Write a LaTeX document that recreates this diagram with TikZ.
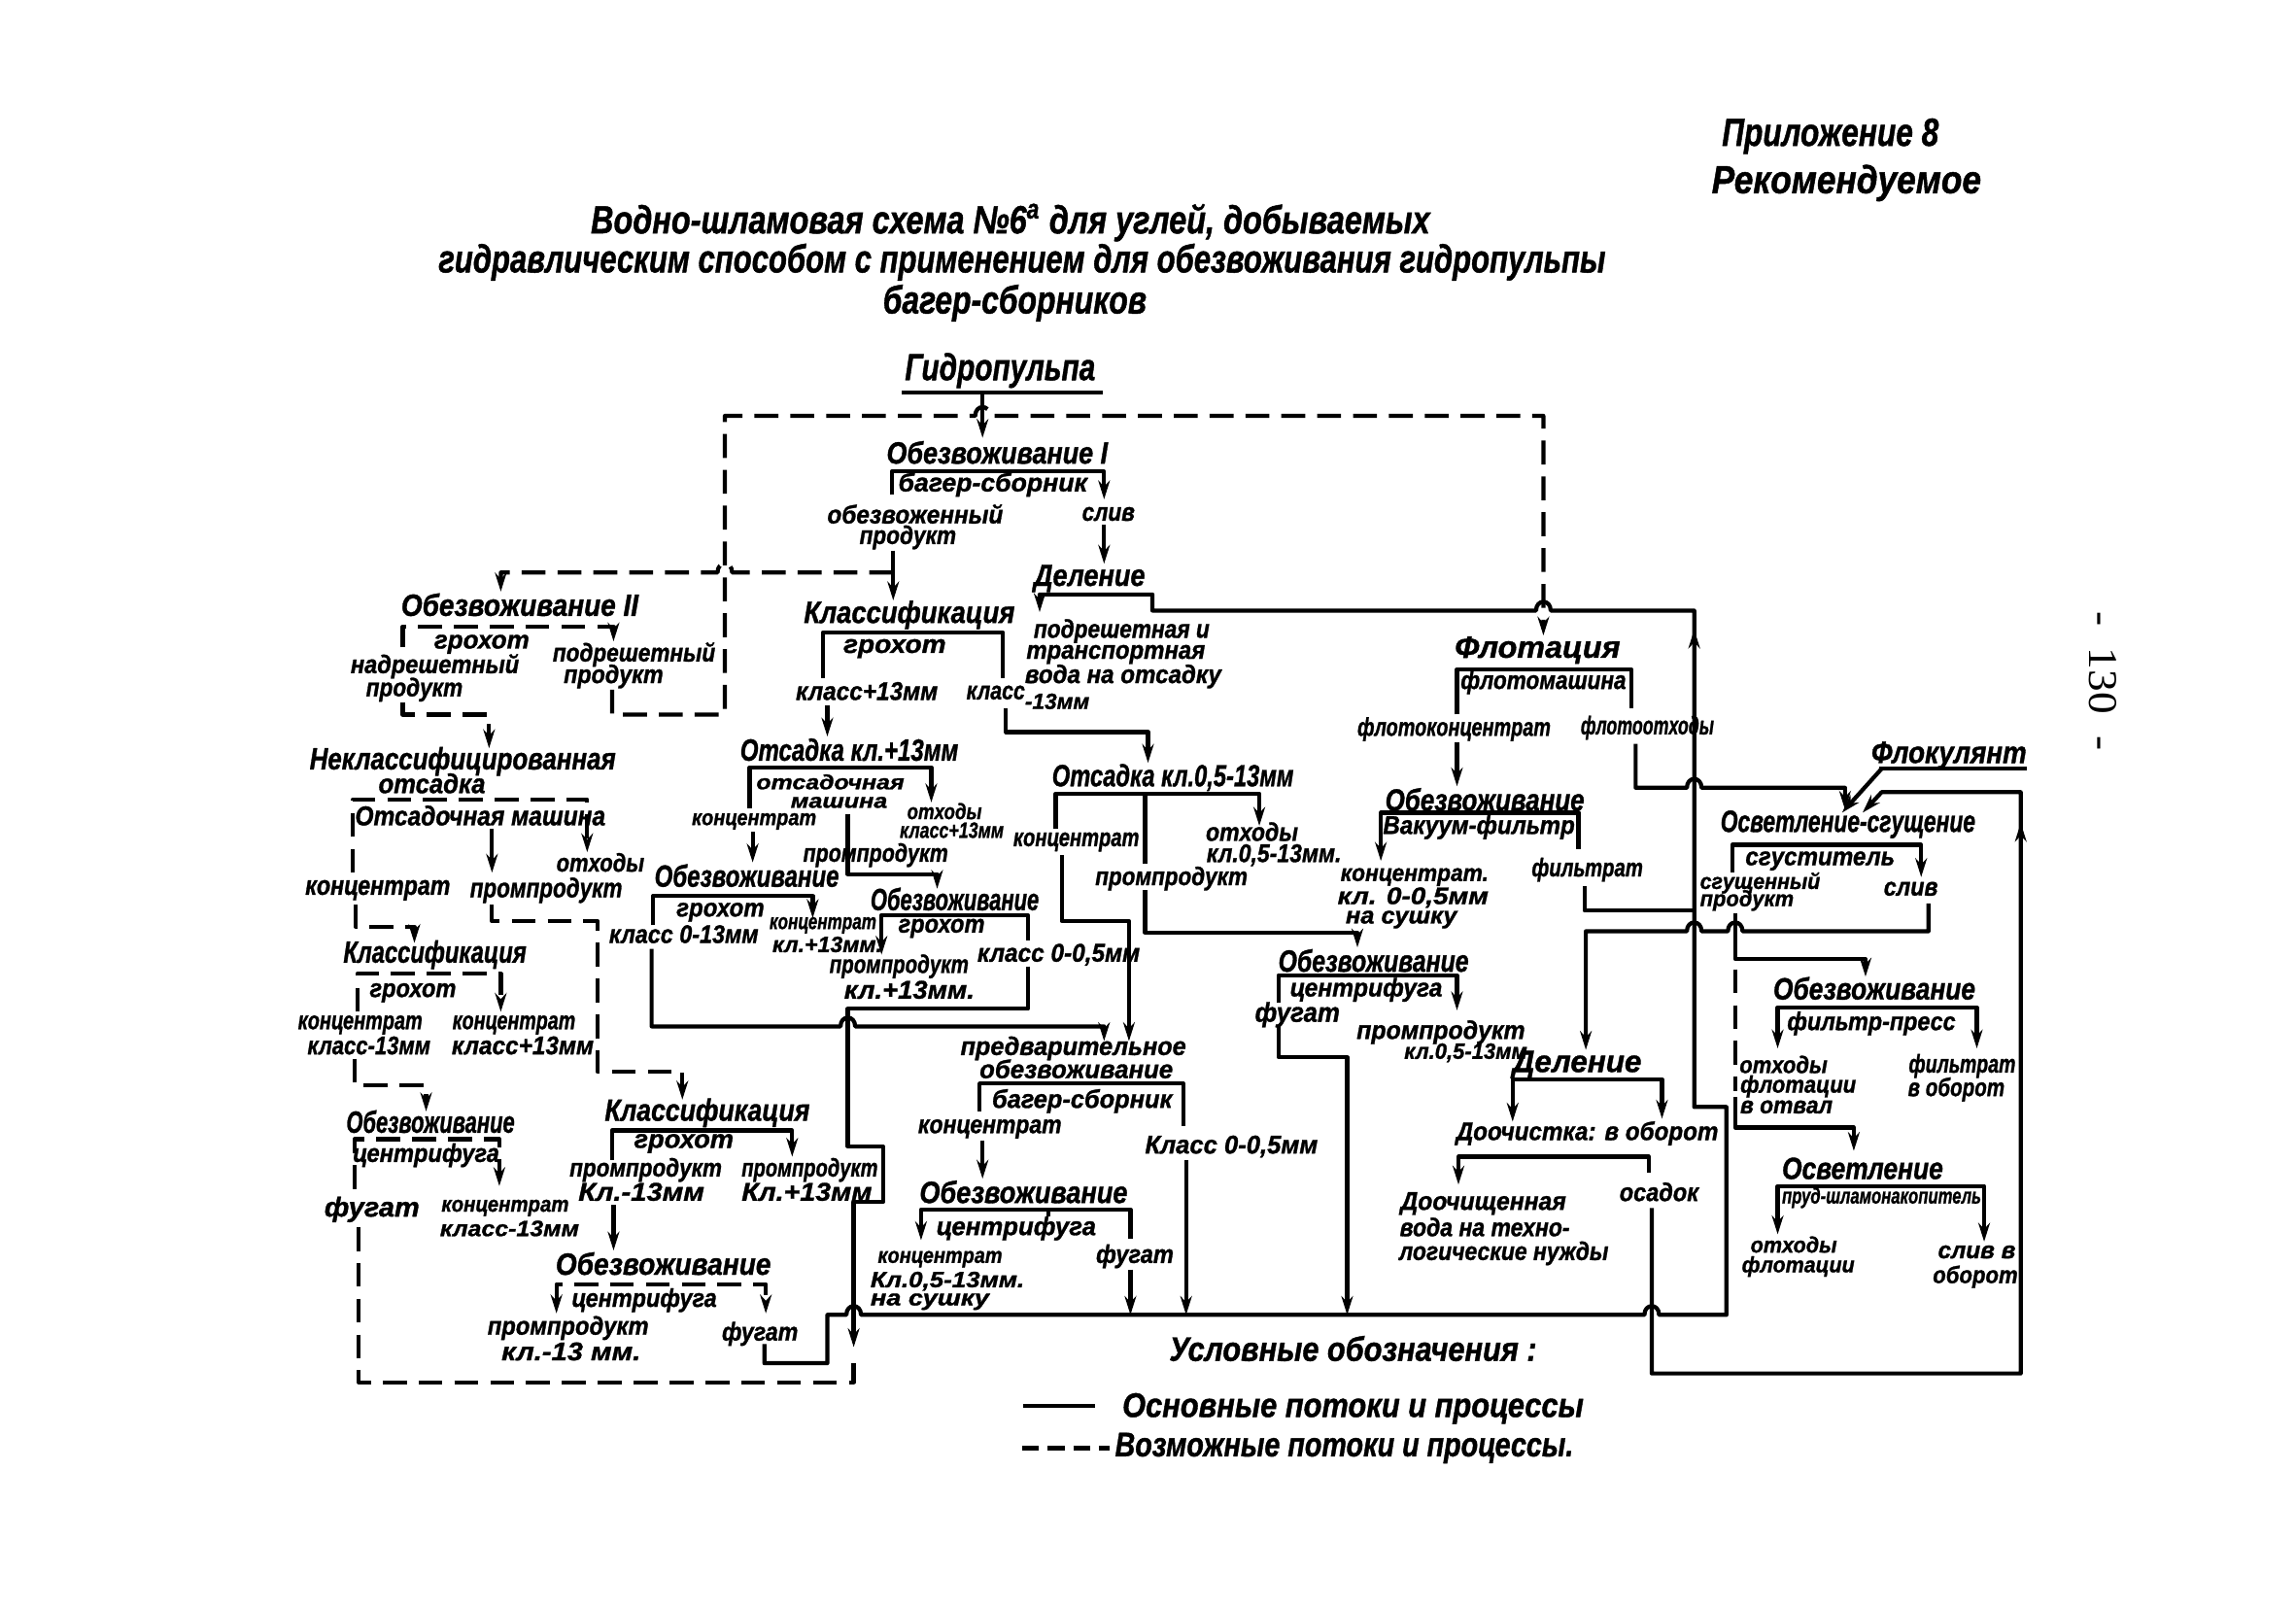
\documentclass[tikz,border=0pt]{standalone}
\usepackage{fontspec}
\usepackage{graphicx}
\setmainfont{Liberation Sans}[BoldItalicFeatures={FakeBold=1.2}]
\newfontfamily\serifpg{Liberation Serif}
\usetikzlibrary{arrows.meta}
\newlength\ulen \setlength\ulen{0.01507cm}
\newcommand\fnT{\fontsize{11.5}{12}\selectfont}
\newcommand\fnG{\fontsize{11}{12}\selectfont}
\newcommand\fnP{\fontsize{9}{10}\selectfont}
\newcommand\fnM{\fontsize{8}{9}\selectfont}
\newcommand\fnS{\fontsize{7.5}{8}\selectfont}
\newcommand\fnR{\fontsize{7}{8}\selectfont}
\newcommand\fnX{\fontsize{6.5}{7}\selectfont}
\newcommand\fnY{\fontsize{6}{6.5}\selectfont}
\newcommand\fnL{\fontsize{10}{11}\selectfont}
\newcommand\Tx[5]{\node[txt] (#1) at (#2) {#4\bfseries\itshape\resizebox{#3\ulen}{\height}{#5}};}
\newcommand\hopR[2]{-- ({#1-5},#2) .. controls ({#1-5},{#2-8}) and ({#1+5},{#2-8}) .. ({#1+5},#2)}
\newcommand\hopL[2]{-- ({#1+5},#2) .. controls ({#1+5},{#2-8}) and ({#1-5},{#2-8}) .. ({#1-5},#2)}
\begin{document}
\begin{tikzpicture}[x=0.01507cm,y=-0.01507cm,line width=1.2pt,line join=round,
  txt/.style={inner sep=0pt,anchor=center},
  arE/.style={-{Stealth[length=5.5pt,width=3.4pt]}},
  arS/.style={{Stealth[length=5.5pt,width=3.4pt]}-},
  arB/.style={{Stealth[length=5.5pt,width=3.4pt]}-{Stealth[length=5.5pt,width=3.4pt]}},
  dsh/.style={dash pattern=on 7pt off 3.5pt}]
\useasboundingbox (0,0) rectangle (1568,1097);

% ---------- headings ----------
\Tx{app}{1250,93}{148}{\fnT}{Приложение 8}
\Tx{rec}{1261,125}{184}{\fnT}{Рекомендуемое}
\Tx{t1}{690,152}{573}{\fnT}{Водно-шламовая схема №6\textsuperscript{а} для углей, добываемых}
\Tx{t2}{698,179}{797}{\fnT}{гидравлическим способом с применением для обезвоживания гидропульпы}
\Tx{t3}{693,207}{180}{\fnT}{багер-сборников}
\node[inner sep=0pt,rotate=-90] (pg) at (1436,465) {\serifpg\fontsize{12}{12}\selectfont\resizebox{95\ulen}{\height}{-\ \ 130\ \ -}};

% ---------- nodes ----------
\Tx{gp}{683,253}{130}{\fnG}{Гидропульпа}
\Tx{ob1}{681,309}{151}{\fnP}{Обезвоживание I}
\Tx{ob1e}{678,331}{129}{\fnS}{багер-сборник}
\Tx{ob1a}{625,351}{120}{\fnS}{обезвоженный}
\Tx{ob1b}{620,367}{66}{\fnS}{продукт}
\Tx{ob1c}{757,351}{36}{\fnS}{слив}

\Tx{del1}{744,395}{76}{\fnP}{Деление}
\Tx{del1a}{766,431}{120}{\fnS}{подрешетная и}
\Tx{del1b}{762,447}{122}{\fnS}{транспортная}
\Tx{del1c}{767,462}{134}{\fnS}{вода на отсадку}

\Tx{kl1}{621,420}{144}{\fnP}{Классификация}
\Tx{kl1e}{611,443}{70}{\fnS}{грохот}
\Tx{kl1a}{592,472}{97}{\fnS}{класс+13мм}
\Tx{kl1b}{680,473}{40}{\fnS}{класс}
\Tx{kl1c}{722,479}{44}{\fnX}{-13мм}

\Tx{ob2}{355,413}{162}{\fnP}{Обезвоживание II}
\Tx{ob2e}{329,440}{65}{\fnS}{грохот}
\Tx{ob2a}{297,455}{115}{\fnS}{надрешетный}
\Tx{ob2b}{283,471}{66}{\fnS}{продукт}
\Tx{ob2c}{433,447}{111}{\fnS}{подрешетный}
\Tx{ob2d}{419,462}{68}{\fnS}{продукт}

\Tx{no}{316,520}{209}{\fnP}{Неклассифицированная}
\Tx{no2}{295,535}{73}{\fnM}{отсадка}
\Tx{noe}{328,557}{171}{\fnM}{Отсадочная машина}
\Tx{noa}{258,608}{99}{\fnM}{концентрат}
\Tx{nob}{373,608}{104}{\fnM}{промпродукт}
\Tx{noc}{410,589}{60}{\fnS}{отходы}

\Tx{kl2}{297,652}{125}{\fnP}{Классификация}
\Tx{kl2e}{282,678}{59}{\fnS}{грохот}
\Tx{kl2a}{246,700}{85}{\fnS}{концентрат}
\Tx{kl2b}{252,714}{84}{\fnS}{класс-13мм}
\Tx{kl2c}{351,700}{84}{\fnS}{концентрат}
\Tx{kl2d}{357,714}{97}{\fnS}{класс+13мм}

\Tx{ob3}{294,766}{115}{\fnP}{Обезвоживание}
\Tx{ob3e}{291,789}{100}{\fnS}{центрифуга}
\Tx{ob3a}{254,826}{65}{\fnM}{фугат}
\Tx{ob3b}{345,825}{87}{\fnX}{концентрат}
\Tx{ob3c}{348,839}{95}{\fnX}{класс-13мм}

\Tx{kl3}{483,760}{140}{\fnP}{Классификация}
\Tx{kl3e}{467,781}{68}{\fnS}{грохот}
\Tx{kl3a}{441,799}{104}{\fnS}{промпродукт}
\Tx{kl3b}{438,814}{86}{\fnS}{Кл.-13мм}
\Tx{kl3c}{553,799}{93}{\fnS}{промпродукт}
\Tx{kl3d}{551,814}{89}{\fnS}{Кл.+13мм}

\Tx{ob4}{453,863}{147}{\fnP}{Обезвоживание}
\Tx{ob4e}{440,888}{99}{\fnS}{центрифуга}
\Tx{ob4a}{388,907}{110}{\fnS}{промпродукт}
\Tx{ob4b}{390,923}{95}{\fnS}{кл.-13 мм.}
\Tx{ob4c}{519,911}{52}{\fnS}{фугат}

\Tx{ot1}{580,512}{149}{\fnP}{Отсадка кл.+13мм}
\Tx{ot1e}{567,534}{101}{\fnY}{отсадочная}
\Tx{ot1f}{573,548}{66}{\fnY}{машина}
\Tx{ot1a}{515,561}{85}{\fnX}{концентрат}
\Tx{ot1b}{645,554}{51}{\fnX}{отходы}
\Tx{ot1c}{650,567}{71}{\fnX}{класс+13мм}
\Tx{ot1d}{598,584}{99}{\fnS}{промпродукт}

\Tx{ob5}{510,598}{126}{\fnP}{Обезвоживание}
\Tx{ob5e}{492,623}{60}{\fnS}{грохот}
\Tx{ob5a}{467,638}{102}{\fnS}{класс 0-13мм}
\Tx{ob5b}{562,632}{73}{\fnX}{концентрат}
\Tx{ob5c}{565,645}{75}{\fnX}{кл.+13мм.}

\Tx{ob6}{652,614}{115}{\fnP}{Обезвоживание}
\Tx{ob6e}{643,634}{59}{\fnS}{грохот}
\Tx{ob6a}{723,652}{111}{\fnS}{класс 0-0,5мм}
\Tx{ob6b}{614,660}{95}{\fnS}{промпродукт}
\Tx{ob6c}{621,676}{89}{\fnS}{кл.+13мм.}

\Tx{ot2}{801,531}{165}{\fnP}{Отсадка кл.0,5-13мм}
\Tx{ot2a}{735,575}{86}{\fnS}{концентрат}
\Tx{ot2b}{800,600}{104}{\fnS}{промпродукт}
\Tx{ot2c}{855,568}{63}{\fnS}{отходы}
\Tx{ot2d}{870,584}{92}{\fnS}{кл.0,5-13мм.}

\Tx{pr}{733,716}{154}{\fnS}{предварительное}
\Tx{pr2}{735,730}{132}{\fnS}{обезвоживание}
\Tx{pre}{739,752}{123}{\fnS}{багер-сборник}
\Tx{pra}{676,771}{98}{\fnS}{концентрат}
\Tx{prb}{841,783}{118}{\fnS}{Класс 0-0,5мм}

\Tx{ob7}{699,814}{142}{\fnP}{Обезвоживание}
\Tx{ob7e}{694,839}{109}{\fnS}{центрифуга}
\Tx{ob7a}{642,860}{85}{\fnX}{концентрат}
\Tx{ob7b}{647,875}{105}{\fnX}{Кл.0,5-13мм.}
\Tx{ob7c}{635,889}{81}{\fnX}{на сушку}
\Tx{ob7d}{775,858}{53}{\fnS}{фугат}

\Tx{ob8}{938,656}{130}{\fnP}{Обезвоживание}
\Tx{ob8e}{933,676}{104}{\fnS}{центрифуга}
\Tx{ob8a}{886,693}{58}{\fnM}{фугат}
\Tx{ob8b}{984,705}{115}{\fnS}{промпродукт}
\Tx{ob8c}{1001,719}{84}{\fnX}{кл.0,5-13мм}

\Tx{fl}{1050,444}{113}{\fnP}{Флотация}
\Tx{fle}{1054,466}{113}{\fnS}{флотомашина}
\Tx{fla}{993,498}{132}{\fnS}{флотоконцентрат}
\Tx{flb}{1125,497}{91}{\fnS}{флотоотходы}

\Tx{ob9}{1014,546}{136}{\fnP}{Обезвоживание}
\Tx{ob9e}{1010,565}{131}{\fnS}{Вакуум-фильтр}
\Tx{ob9a}{966,599}{101}{\fnR}{концентрат.}
\Tx{ob9b}{965,613}{103}{\fnR}{кл. 0-0,5мм}
\Tx{ob9c}{957,628}{76}{\fnR}{на сушку}
\Tx{ob9d}{1084,594}{76}{\fnS}{фильтрат}

\Tx{del2}{1077,727}{88}{\fnP}{Деление}
\Tx{del2a}{1084,774}{179}{\fnS}{Доочистка: в оборот}
\Tx{del2b}{1013,822}{113}{\fnS}{Доочищенная}
\Tx{del2c}{1014,838}{116}{\fnS}{вода на техно-}
\Tx{del2d}{1027,856}{143}{\fnS}{логические нужды}
\Tx{del2e}{1133,814}{54}{\fnS}{осадок}

\Tx{flok}{1331,516}{106}{\fnP}{Флокулянт}
\Tx{os}{1262,563}{174}{\fnP}{Осветление-сгущение}
\Tx{ose}{1243,588}{102}{\fnS}{сгуститель}
\Tx{osa}{1202,603}{82}{\fnX}{сгущенный}
\Tx{osb}{1193,615}{64}{\fnX}{продукт}
\Tx{osc}{1305,607}{37}{\fnS}{слив}
\Tx{ob10}{1280,675}{138}{\fnP}{Обезвоживание}
\Tx{ob10e}{1278,699}{115}{\fnS}{фильтр-пресс}
\Tx{ob10a}{1218,727}{60}{\fnR}{отходы}
\Tx{ob10b}{1228,742}{79}{\fnR}{флотации}
\Tx{ob10c}{1220,756}{63}{\fnR}{в отвал}
\Tx{ob10d}{1340,728}{73}{\fnS}{фильтрат}
\Tx{ob10f}{1336,744}{66}{\fnS}{в оборот}
\Tx{osv}{1272,798}{110}{\fnP}{Осветление}
\Tx{osve}{1285,818}{136}{\fnX}{пруд-шламонакопитель}
\Tx{osva}{1225,850}{59}{\fnX}{отходы}
\Tx{osvb}{1228,865}{77}{\fnX}{флотации}
\Tx{osvc}{1350,855}{53}{\fnR}{слив в}
\Tx{osvd}{1349,872}{58}{\fnR}{оборот}

\Tx{lg}{924,921}{251}{\fnL}{Условные обозначения :}
\Tx{lg1}{924,962}{315}{\fnL}{Основные потоки и процессы}
\Tx{lg2}{918,989}{313}{\fnL}{Возможные потоки и процессы.}

% ---------- solid connectors ----------
\draw (616,268) -- (753,268);
\draw[arE] (671,268) -- (671,299);
\draw[arE] (609,338) -- (609,322) -- (754,322) -- (754,341);
\draw[arE] (610,376) -- (610,410);
\draw[arE] (754,358) -- (754,385);
% Delenie + collector
\draw[arS] (710,418) -- (710,406) -- (787,406) -- (787,417) \hopR{1054}{417} -- (1157,417) -- (1157,756) -- (1179,756) -- (1179,898) \hopL{1128}{898} -- (920,898) -- (810,898) -- (772,898) \hopL{583}{898} -- (565,898) -- (565,931) -- (522,931) -- (522,918);
\draw[arE] (1157,448) -- (1157,430);
% Klassifikatsiya 1
\draw (562,463) -- (562,432) -- (685,432) -- (685,463);
\draw[arE] (565,482) -- (565,503);
\draw[arE] (687,484) -- (687,500) -- (784,500) -- (784,521);
% Otsadka +13
\draw[arE] (512,552) -- (512,524) -- (636,524) -- (636,548);
\draw[arE] (514,568) -- (514,589);
\draw[arE] (579,556) -- (579,597) -- (640,597) -- (640,607);
% Obezv. grokhot a
\draw[arE] (446,632) -- (446,612) -- (555,612) -- (555,627);
\draw[arE] (445,648) -- (445,701) \hopR{579}{701} -- (754,701) -- (754,711);
% Obezv. grokhot b
\draw[arS] (602,652) -- (602,625) -- (702,625) -- (702,642);
\draw[arE] (702,660) -- (702,689) -- (579,689) -- (579,783) -- (603,783) -- (603,821) -- (583,821) -- (583,920);
% Otsadka 0,5-13
\draw[arE] (721,566) -- (721,542) -- (860,542) -- (860,564);
\draw (782,542) -- (782,590);
\draw[arE] (782,608) -- (782,637) -- (927,637) -- (927,647);
\draw[arE] (725,584) -- (725,629) -- (771,629) -- (771,711);
% Predvaritelnoe
\draw (669,759) -- (669,740) -- (808,740) -- (808,769);
\draw[arE] (671,779) -- (671,805);
\draw[arS] (629,847) -- (629,826) -- (772,826) -- (772,846);
\draw (716,826) -- (716,831);
\draw[arE] (772,867) -- (772,898);
\draw[arE] (810,792) -- (810,898);
% centrifuge middle
\draw[arE] (873,685) -- (873,666) -- (995,666) -- (995,690);
\draw[arE] (873,701) -- (873,722) -- (920,722) -- (920,898);
% Flotatsiya
\draw (995,488) -- (995,457) -- (1114,457) -- (1114,484);
\draw[arE] (995,507) -- (995,537);
\draw[arE] (1117,508) -- (1117,538) \hopR{1157}{538} -- (1260,538) -- (1260,553);
% vacuum filter
\draw[arS] (943,588) -- (943,555) -- (1078,555) -- (1078,580);
\draw (1082,605) -- (1082,622) -- (1157,622);
% Delenie 2
\draw[arE] (1317,617) -- (1317,636) \hopL{1185}{636} \hopL{1157}{636} -- (1083,636) -- (1083,717);
\draw[arB] (1033,766) -- (1033,737) -- (1135,737) -- (1135,764);
\draw[arS] (996,809) -- (996,790) -- (1126,790) -- (1126,801);
% right column
\draw (1283,525) -- (1384,525);
\draw[arE] (1285,525) -- (1258,555);
\draw[arE] (1128,825) -- (1128,938) -- (1380,938) -- (1380,541) -- (1285,541) -- (1272,555);
\draw[arE] (1380,582) -- (1380,562);
\draw[arE] (1183,596) -- (1183,577) -- (1312,577) -- (1312,599);
\draw[arE] (1185,624) -- (1185,655) -- (1274,655) -- (1274,667);
\draw[arB] (1214,716) -- (1214,688) -- (1350,688) -- (1350,716);
\draw[arE] (1185,749) -- (1185,770) -- (1266,770) -- (1266,786);
\draw[arB] (1214,843) -- (1214,810) -- (1355,810) -- (1355,848);
% lower-left solid
\draw[arE] (418,792) -- (418,772) -- (541,772) -- (541,790);
\draw[arE] (419,823) -- (419,854);

% ---------- dashed connectors ----------
\draw[dsh,arE] (418,471) -- (418,488) -- (495,488) -- (495,284) \hopR{671}{284} -- (1054,284) -- (1054,434);
\draw[dsh,arE] (610,391) \hopL{495}{391} -- (342,391) -- (342,404);
\draw[dsh,arE] (275,442) -- (275,428) -- (419,428) -- (419,438);
\draw[dsh,arE] (275,480) -- (275,488) -- (334,488) -- (334,511);
\draw[dsh,arE] (241,596) -- (241,546) -- (401,546) -- (401,582);
\draw[arE] (336,566) -- (336,596);
\draw[dsh,arE] (243,618) -- (243,633) -- (283,633) -- (283,644);
\draw[dsh,arE] (336,618) -- (336,629) -- (408,629) -- (408,732) -- (466,732) -- (466,751);
\draw[dsh,arE] (244,691) -- (244,665) -- (342,665) -- (342,691);
\draw[dsh,arE] (242,723) -- (242,741) -- (291,741) -- (291,759);
\draw[dsh,arE] (242,812) -- (242,778) -- (341,778) -- (341,810);
\draw[dsh] (245,838) -- (245,944) -- (583,944) -- (583,925);
\draw[dsh,arB] (380,897) -- (380,877) -- (523,877) -- (523,897);
\draw[dsh] (1185,662) -- (1185,745);

% ---------- legend ----------
\draw (699,960) -- (748,960);
\draw[dash pattern=on 5pt off 2.5pt] (698,989) -- (758,989);
\end{tikzpicture}
\end{document}
